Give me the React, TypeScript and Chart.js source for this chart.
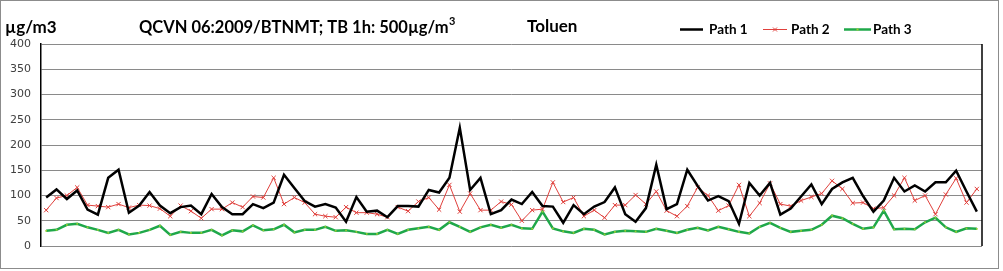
import React, { useEffect, useRef } from 'react';
import { Chart, registerables } from 'chart.js';
Chart.register(...registerables);

const path1 = [96, 112, 93, 110, 72, 62, 135, 151, 66, 80, 107, 80, 65, 77, 80, 63, 103, 77, 63, 63, 83, 75, 86, 141, 115, 89, 78, 83, 76, 48, 97, 68, 70, 57, 79, 79, 78, 111, 106, 135, 234, 111, 135, 63, 71, 92, 83, 107, 79, 78, 46, 81, 63, 78, 87, 116, 63, 48, 75, 161, 73, 83, 151, 119, 90, 99, 89, 44, 125, 100, 125, 62, 74, 98, 122, 83, 113, 126, 135, 99, 68, 90, 135, 108, 120, 108, 126, 126, 149, 108, 68];
const path2 = [71, 95, 100, 116, 81, 79, 77, 83, 76, 81, 80, 74, 59, 80, 69, 55, 73, 73, 86, 77, 98, 96, 135, 83, 96, 86, 63, 59, 57, 77, 66, 66, 63, 57, 77, 69, 88, 96, 72, 121, 68, 104, 71, 71, 88, 82, 50, 71, 73, 126, 87, 96, 59, 71, 56, 81, 81, 101, 83, 108, 70, 59, 79, 116, 100, 70, 80, 121, 59, 85, 124, 83, 79, 90, 97, 104, 129, 113, 85, 86, 74, 76, 100, 135, 90, 100, 63, 102, 134, 86, 113];
const path3 = [30, 32, 42, 44, 37, 32, 26, 32, 23, 26, 32, 40, 22, 28, 26, 26, 32, 21, 31, 29, 41, 31, 33, 42, 27, 32, 32, 38, 30, 31, 28, 24, 24, 32, 24, 32, 35, 38, 32, 47, 38, 28, 37, 42, 36, 42, 35, 34, 68, 35, 29, 26, 34, 32, 23, 28, 30, 29, 28, 34, 30, 26, 32, 36, 31, 38, 33, 28, 25, 38, 46, 36, 28, 30, 32, 42, 60, 55, 44, 34, 37, 70, 33, 34, 33, 47, 56, 37, 28, 35, 34];
const categories = path1.map((_, i) => String(i + 1));
const seriesNames = ['Path 1', 'Path 2', 'Path 3'];
const yMin = 0;
const yMax = 400;
const yStep = 50;
const unitLabel = 'µg/m3';
const standardLabel = 'QCVN 06:2009/BTNMT; TB 1h: 500µg/m';
const standardSup = '3';
const pollutant = 'Toluen';

const C_BLACK = '#000000';
const C_RED = '#e0403c';
const C_GREEN = '#1fa84a';

const decorPlugin = {
  id: 'decor',
  beforeDraw(chart: any) {
    const ctx = chart.ctx;
    ctx.save();
    ctx.fillStyle = '#ffffff';
    ctx.fillRect(0, 0, chart.width, chart.height);
    ctx.strokeStyle = '#8c8c8c';
    ctx.lineWidth = 1;
    ctx.strokeRect(0.5, 0.5, 998, 268);
    ctx.restore();
  },
  afterDraw(chart: any) {
    const ctx = chart.ctx;
    const a = chart.chartArea;
    ctx.save();
    ctx.strokeStyle = '#000';
    ctx.lineWidth = 1.5;
    ctx.beginPath();
    ctx.moveTo(a.right, a.top);
    ctx.lineTo(a.right, a.bottom);
    ctx.stroke();

    ctx.fillStyle = '#000';
    ctx.textBaseline = 'middle';
    ctx.font = 'bold 17px Lato';
    ctx.fillText(unitLabel, 5, 28);
    ctx.font = 'bold 16.5px Lato';
    ctx.fillText(standardLabel, 139, 28);
    const w = ctx.measureText(standardLabel).width;
    ctx.font = 'bold 11px Lato';
    ctx.fillText(standardSup, 139 + w + 0.5, 21);
    ctx.font = 'bold 17px Lato';
    ctx.fillText(pollutant, 527, 27);

    const items = [
      { x: 680, len: 23, tx: 709 },
      { x: 763, len: 24, tx: 791 },
      { x: 844, len: 27, tx: 873 },
    ];
    chart.data.datasets.forEach((ds: any, i: number) => {
      const it = items[i];
      const y = 29.5;
      ctx.strokeStyle = ds.borderColor;
      ctx.lineWidth = ds.borderWidth;
      ctx.beginPath();
      ctx.moveTo(it.x, y);
      ctx.lineTo(it.x + it.len, y);
      ctx.stroke();
      if (i === 1) {
        ctx.lineWidth = 1;
        const cx = it.x + it.len / 2;
        ctx.beginPath();
        ctx.moveTo(cx - 2, y - 2);
        ctx.lineTo(cx + 2, y + 2);
        ctx.moveTo(cx - 2, y + 2);
        ctx.lineTo(cx + 2, y - 2);
        ctx.stroke();
      }
      if (i === 2) {
        ctx.fillStyle = '#9acd32';
        ctx.fillRect(it.x + it.len / 2 - 1, y - 1, 2, 2);
      }
      ctx.fillStyle = '#000';
      ctx.font = 'bold 13.5px Lato';
      ctx.fillText(ds.label, it.tx, 30);
    });
    ctx.restore();
  },
};

export default function App() {
  const ref = useRef<HTMLCanvasElement>(null);
  useEffect(() => {
    if (!ref.current) return;
    const chart = new Chart(ref.current, {
      type: 'line',
      data: {
        labels: categories,
        datasets: [
          {
            label: seriesNames[0],
            data: path1,
            borderColor: C_BLACK,
            backgroundColor: C_BLACK,
            borderWidth: 2.5,
            pointRadius: 0,
            tension: 0,
          },
          {
            label: seriesNames[1],
            data: path2,
            borderColor: C_RED,
            backgroundColor: C_RED,
            borderWidth: 1,
            pointStyle: 'crossRot',
            pointRadius: 3,
            pointBorderWidth: 1,
            pointBorderColor: C_RED,
            tension: 0,
          },
          {
            label: seriesNames[2],
            data: path3,
            borderColor: C_GREEN,
            backgroundColor: '#9acd32',
            borderWidth: 2.5,
            pointStyle: 'rect',
            pointRadius: 1.2,
            pointBorderWidth: 0,
            pointBackgroundColor: '#9acd32',
            tension: 0,
          },
        ],
      },
      options: {
        animation: false,
        responsive: false,
        devicePixelRatio: 1,
        layout: { padding: { left: 0, top: 44, right: 21, bottom: 25 } },
        plugins: {
          legend: { display: false },
          tooltip: { enabled: false },
          title: { display: false },
        },
        scales: {
          x: {
            type: 'category',
            display: false,
            offset: true,
          },
          y: {
            min: yMin,
            max: yMax,
            afterFit: (s: any) => {
              s.width = 41;
            },
            ticks: {
              stepSize: yStep,
              padding: 10,
              color: '#404040',
              font: { family: 'DejaVu Sans', size: 11 },
            },
            grid: { color: '#8a8a8a', lineWidth: 1, drawTicks: false },
            border: { display: true, color: '#000', width: 1.5 },
          },
        },
      },
      plugins: [decorPlugin],
    });
    return () => chart.destroy();
  }, []);
  return (
    <div style={{ position: 'absolute', left: 0, top: 0, width: 1003, height: 271 }}>
      <canvas ref={ref} width={1003} height={271} style={{ width: 1003, height: 271 }} />
    </div>
  );
}
